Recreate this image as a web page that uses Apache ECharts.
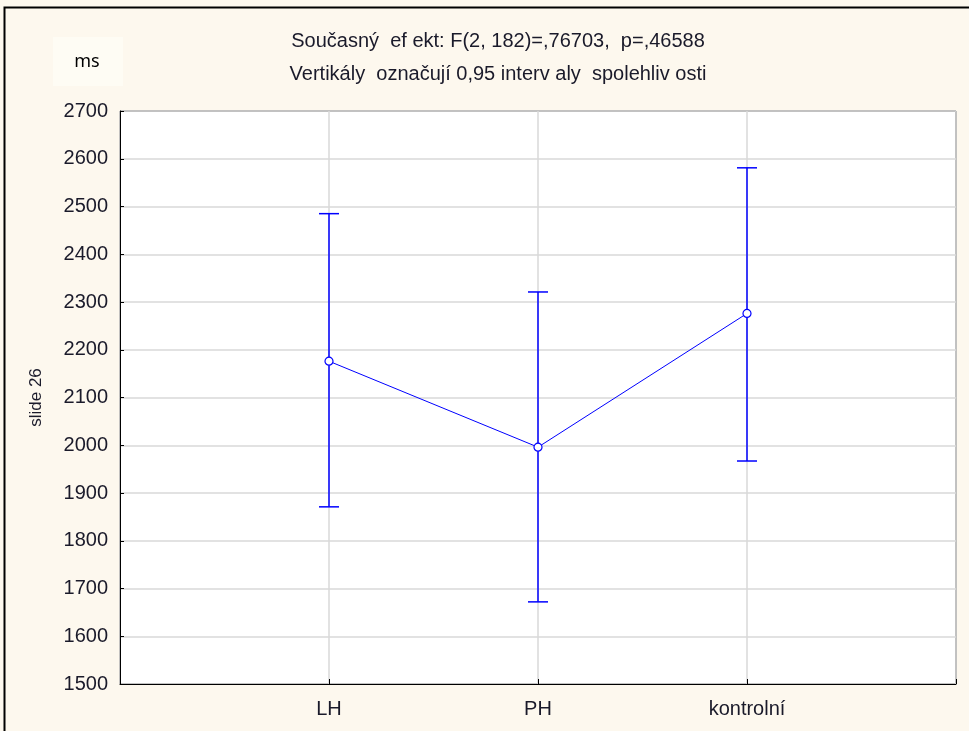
<!DOCTYPE html>
<html><head><meta charset="utf-8">
<script src="https://cdn.jsdelivr.net/npm/echarts@6/dist/echarts.min.js"></script>
<style>html,body{margin:0;padding:0;background:#fdf8ee}#c{width:969px;height:731px}</style>
</head><body><div id="c"></div>
<script>
const categories = ['LH', 'PH', 'kontrolní'];
const means = [2176, 1996, 2276];
const lower = [1871, 1672, 1967];
const upper = [2485, 2321, 2581];
const yTicks = [1500, 1600, 1700, 1800, 1900, 2000, 2100, 2200, 2300, 2400, 2500, 2600, 2700];

const axisCats = [''].concat(categories, ['']);
const chart = echarts.init(document.getElementById('c'), null, {renderer: 'canvas'});
const FONT = 'Liberation Sans';
const blue = '#0000ff';

chart.setOption({
  backgroundColor: '#fdf8ee',
  animation: false,
  grid: {left: 120, right: 13, top: 111, bottom: 47, show: true, backgroundColor: '#ffffff', borderColor: '#000', borderWidth: 1},
  graphic: [
    {type: 'rect', shape: {x: 4.5, y: 7.5, width: 1200, height: 1000}, style: {fill: 'none', stroke: '#000', lineWidth: 2}, silent: true},
    {type: 'rect', shape: {x: 53, y: 37, width: 70, height: 49}, style: {fill: '#fefcf4', stroke: null}, silent: true},
    {type: 'text', x: 87, y: 62, style: {text: 'ms', font: '18px "Noto Sans"', fill: '#000', textAlign: 'center', textVerticalAlign: 'middle'}},
    {type: 'text', x: 498, y: 41, style: {text: 'Současný  ef ekt: F(2, 182)=,76703,  p=,46588', font: '20px "Liberation Sans"', fill: '#1a1a2a', textAlign: 'center', textVerticalAlign: 'middle'}},
    {type: 'text', x: 498, y: 74, style: {text: 'Vertikály  označují 0,95 interv aly  spolehliv osti', font: '20px "Liberation Sans"', fill: '#1a1a2a', textAlign: 'center', textVerticalAlign: 'middle'}}
  ],
  xAxis: {
    type: 'category', data: axisCats, boundaryGap: false,
    axisLine: {show: true, lineStyle: {color: '#000', width: 1}},
    axisTick: {show: true, inside: true, length: 5, lineStyle: {color: '#000'}},
    axisLabel: {color: '#1a1a2a', fontFamily: FONT, fontSize: 20, margin: 15},
    splitLine: {show: true, lineStyle: {color: '#d9d9d9', width: 1.5}}
  },
  yAxis: {
    type: 'value', min: yTicks[0], max: yTicks[yTicks.length - 1], interval: 100,
    name: 'slide 26', nameLocation: 'middle', nameGap: 75, nameRotate: 90,
    nameTextStyle: {color: '#1a1a2a', fontFamily: FONT, fontSize: 17},
    axisLine: {show: true, lineStyle: {color: '#000', width: 1}},
    axisTick: {show: true, inside: true, length: 4, lineStyle: {color: '#000'}},
    axisLabel: {color: '#1a1a2a', fontFamily: FONT, fontSize: 20, margin: 12, formatter: v => String(v)},
    splitLine: {show: true, lineStyle: {color: '#d9d9d9', width: 1.5}}
  },
  series: [
    {
      type: 'custom',
      data: categories.map((c, i) => [c, lower[i], upper[i]]),
      renderItem: function (params, api) {
        const lo = api.coord([api.value(0), api.value(1)]);
        const hi = api.coord([api.value(0), api.value(2)]);
        const w = 10;
        const st = {stroke: blue, lineWidth: 1.5};
        return {type: 'group', children: [
          {type: 'line', shape: {x1: lo[0], y1: lo[1], x2: hi[0], y2: hi[1]}, style: st},
          {type: 'line', shape: {x1: hi[0] - w, y1: hi[1], x2: hi[0] + w, y2: hi[1]}, style: st},
          {type: 'line', shape: {x1: lo[0] - w, y1: lo[1], x2: lo[0] + w, y2: lo[1]}, style: st}
        ]};
      },
      encode: {x: 0, y: [1, 2]},
      z: 2
    },
    {
      type: 'line',
      data: categories.map((c, i) => [c, means[i]]),
      lineStyle: {color: blue, width: 1},
      itemStyle: {color: '#fff', borderColor: blue, borderWidth: 1.2},
      symbol: 'circle', symbolSize: 8, showSymbol: true,
      z: 3
    }
  ]
});
</script>
</body></html>
